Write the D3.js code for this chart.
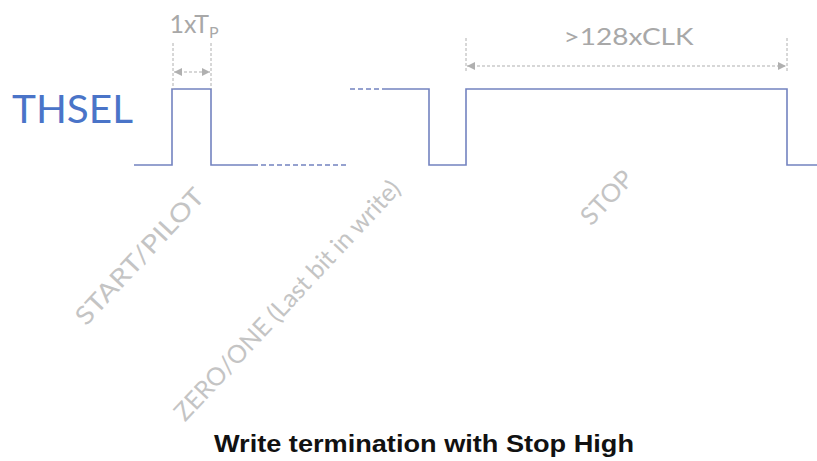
<!DOCTYPE html>
<html><head><meta charset="utf-8">
<script src="https://cdn.jsdelivr.net/npm/d3@7"></script>
<style>body{margin:0;background:#fff}svg{display:block}</style>
</head><body>
<svg id="c" width="817" height="461"></svg>
<script>
// Waveform data (time units, level 0 = low, 1 = high)
const seg1 = [[0,0],[38,0],[38,1],[77,1],[77,0],[119,0]];
const dashLow = [[119,0],[213,0]];
const dashHigh = [[216,1],[253,1]];
const seg2 = [[253,1],[295,1],[295,0],[332,0],[332,1],[653,1],[653,0],[683,0]];
const dims = [
  {t0:39, t1:77, label:"1xT", sub:"P", lvl:"tp"},
  {t0:332, t1:653, label:">128xCLK", sub:"", lvl:"clk"}
];
const phaseLabels = [
  {t:72, text:"START/PILOT", len:176},
  {t:268, text:"ZERO/ONE (Last bit in write)", len:318},
  {t:501, text:"STOP", len:64}
];
const phaseY = [198, 190, 180];
const signalName = "THSEL";
const title = "Write termination with Stop High";

const svg = d3.select("#c");
const x = d3.scaleLinear().domain([0,683]).range([134,817]);
const y = d3.scaleLinear().domain([0,1]).range([165,89]);
const line = d3.line().x(d=>x(d[0])).y(d=>y(d[1]));
const wc = "#7383c0";

svg.append("text").attr("x",12).attr("y",123).attr("fill","#4a74c8")
  .attr("font-family","Lato, 'Open Sans', sans-serif").attr("font-size",39)
  .attr("textLength",121).attr("lengthAdjust","spacingAndGlyphs").text(signalName);

[seg1,seg2].forEach(s=>svg.append("path").attr("d",line(s)).attr("fill","none")
  .attr("stroke",wc).attr("stroke-width",1.6));
[dashLow,dashHigh].forEach(s=>svg.append("path").attr("d",line(s)).attr("fill","none")
  .attr("stroke",wc).attr("stroke-width",1.4).attr("stroke-dasharray","5,3"));

const gc = "#b0b0b0";
const defs = svg.append("defs");
defs.append("marker").attr("id","ah").attr("viewBox","0 0 10 10").attr("refX",10).attr("refY",5)
  .attr("markerWidth",8).attr("markerHeight",8).attr("orient","auto-start-reverse")
  .attr("markerUnits","userSpaceOnUse")
  .append("path").attr("d","M0,0L10,5L0,10Z").attr("fill",gc);

const dimY = {tp:{top:43, arrow:72, text:33, size:25, len:null}, clk:{top:38, arrow:66, text:45, size:24, len:130}};
dims.forEach(d=>{
  const g = dimY[d.lvl];
  [d.t0,d.t1].forEach(t=>svg.append("line").attr("x1",x(t)).attr("x2",x(t))
    .attr("y1",g.top).attr("y2",d.lvl==="tp"?y(1):73).attr("stroke",gc).attr("stroke-width",1)
    .attr("stroke-dasharray","3,2"));
  svg.append("line").attr("x1",x(d.t0)+1).attr("x2",x(d.t1)-1).attr("y1",g.arrow).attr("y2",g.arrow)
    .attr("stroke",gc).attr("stroke-width",1.2).attr("stroke-dasharray","3,2")
    .attr("marker-start","url(#ah)").attr("marker-end","url(#ah)");
  const tx = svg.append("text").attr("x",(x(d.t0)+x(d.t1))/2+2).attr("y",g.text)
    .attr("text-anchor","middle").attr("fill","#a8a8a8")
    .attr("font-family","Lato, 'Open Sans', sans-serif").attr("font-size",g.size);
  if(g.len) tx.attr("textLength",g.len).attr("lengthAdjust","spacingAndGlyphs");
  tx.append("tspan").text(d.label);
  if(d.sub) tx.append("tspan").attr("font-size",16).attr("dy",5).text(d.sub);
});

phaseLabels.forEach((p,i)=>{
  const px = x(p.t), py = phaseY[i];
  svg.append("text").attr("transform",`translate(${px},${py}) rotate(-47)`)
    .attr("text-anchor","end").attr("fill","#c4c4c4")
    .attr("textLength",p.len).attr("lengthAdjust","spacingAndGlyphs")
    .attr("font-family","Lato, 'Open Sans', sans-serif").attr("font-size",25).text(p.text);
});

svg.append("text").attr("x",424).attr("y",452).attr("text-anchor","middle")
  .attr("font-family","'Liberation Sans', Arial, sans-serif").attr("font-weight","bold")
  .attr("font-size",24).attr("fill","#111")
  .attr("textLength",420).attr("lengthAdjust","spacingAndGlyphs").text(title);
</script>
</body></html>
